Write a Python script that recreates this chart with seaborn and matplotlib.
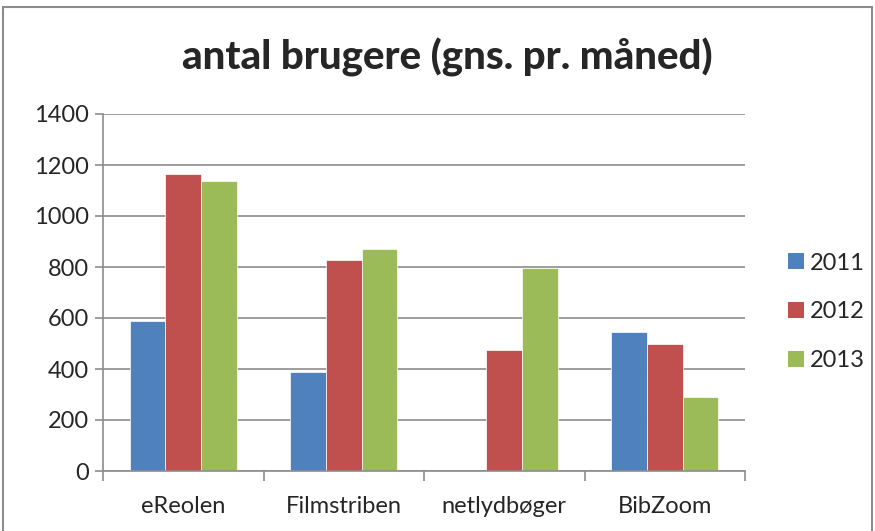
import matplotlib
matplotlib.use("Agg")
import matplotlib.pyplot as plt
import seaborn as sns
import pandas as pd
from matplotlib.patches import Rectangle, Patch

categories = ["eReolen", "Filmstriben", "netlydbøger", "BibZoom"]
years = ["2011", "2012", "2013"]
v2011 = [590, 390, 0, 545]
v2012 = [1165, 827, 475, 498]
v2013 = [1139, 871, 798, 290]
colors = ["#4F81BD", "#C0504D", "#9BBB59"]
title = "antal brugere (gns. pr. måned)"

rows = []
for y, vals in zip(years, [v2011, v2012, v2013]):
    for c, v in zip(categories, vals):
        rows.append({"kategori": c, "år": y, "antal": v})
df = pd.DataFrame(rows)

sns.set_style("white")
plt.rcParams["font.family"] = ["Lato", "DejaVu Sans"]

W, H = 875, 531
fig = plt.figure(figsize=(W / 100, H / 100), dpi=100)
ax = fig.add_axes([103 / W, 1 - 471 / H, (745 - 103) / W, (471 - 114) / H])

sns.barplot(data=df, x="kategori", y="antal", hue="år", order=categories,
            hue_order=years, palette=colors, width=0.664, ax=ax,
            edgecolor="white", linewidth=0.5, legend=False, saturation=1)

ax.set_ylim(0, 1400)
ax.set_xlim(-0.5, 3.5)
ax.set_yticks(range(0, 1401, 200))
ax.yaxis.grid(True, color="#8C8C8C", linewidth=1.2)
ax.set_axisbelow(True)
ax.set_xlabel("")
ax.set_ylabel("")
for s in ["top", "right"]:
    ax.spines[s].set_visible(False)
for s in ["left", "bottom"]:
    ax.spines[s].set_color("#8C8C8C")
    ax.spines[s].set_linewidth(1.2)
ax.tick_params(axis="y", length=6, width=1.2, color="#8C8C8C", labelsize=17, pad=4, direction="out", left=True)
ax.set_xticks([0, 1, 2, 3])
ax.set_xticklabels(categories)
ax.tick_params(axis="x", length=0, labelsize=17, pad=18)
# category boundary tick marks
ax.set_xticks([-0.5, 0.5, 1.5, 2.5, 3.5], minor=True)
ax.tick_params(axis="x", which="minor", length=7, width=1.2, color="#8C8C8C", bottom=True)

fig.text(447 / W, 1 - 57 / H, title, ha="center", va="center",
         fontsize=29, fontweight="black")

handles = [Patch(facecolor=c, edgecolor="none") for c in colors]
fig.legend(handles, years, loc="center left", bbox_to_anchor=(781 / W, 1 - 312 / H),
           frameon=False, fontsize=17, handlelength=0.68, handleheight=0.68,
           handletextpad=0.25, labelspacing=1.18, borderaxespad=0, borderpad=0.3)

fig.patches.append(Rectangle((3 / W, -0.05), (872 - 3) / W, 1 - 7 / H + 0.05,
                             transform=fig.transFigure, fill=False,
                             edgecolor="#8C8C8C", linewidth=1.5))

fig.savefig("out.png", dpi=100)
